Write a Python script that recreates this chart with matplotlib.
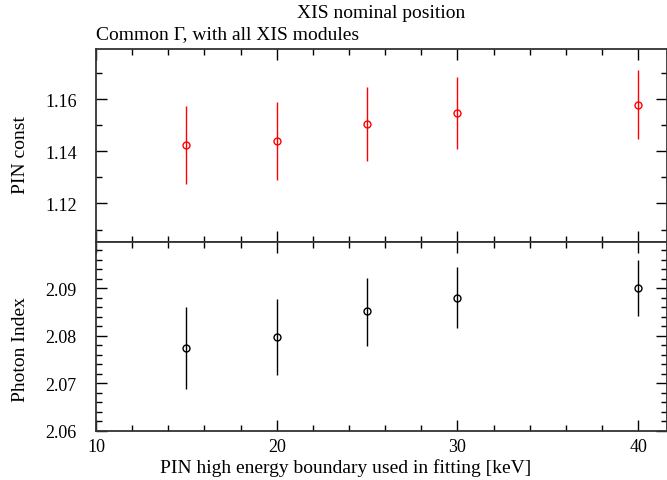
import matplotlib.pyplot as plt
from matplotlib.ticker import MultipleLocator

# PIN high energy boundary [keV]
energy = [15, 20, 25, 30, 40]

# PIN constant with asymmetric errors (upper, lower)
pin_const = [1.1423, 1.1439, 1.1504, 1.1548, 1.1579]
pin_hi = [1.1575, 1.1590, 1.1648, 1.1687, 1.1711]
pin_lo = [1.1275, 1.1292, 1.1363, 1.1410, 1.1447]

# photon index
gamma = [2.0774, 2.0798, 2.0851, 2.0880, 2.0901]
gamma_hi = [2.0860, 2.0878, 2.0921, 2.0945, 2.0960]
gamma_lo = [2.0688, 2.0718, 2.0779, 2.0815, 2.0842]

plt.rcParams['font.family'] = ['Liberation Serif', 'DejaVu Serif']
plt.rcParams['font.size'] = 13

fig = plt.figure(figsize=(6.67, 4.81), dpi=100)
ax1 = fig.add_axes([96 / 667, 1 - 242.5 / 481, 1 - 96 / 667, (242.5 - 49.5) / 481])
ax2 = fig.add_axes([96 / 667, 1 - 431.7 / 481, 1 - 96 / 667, (431.7 - 242.5) / 481], sharex=ax1)

err1 = [[c - l for c, l in zip(pin_const, pin_lo)], [h - c for c, h in zip(pin_const, pin_hi)]]
ax1.errorbar(energy, pin_const, yerr=err1, fmt='o', color='red', mfc='none',
             ms=5, mew=1, elinewidth=1, capsize=0)
err2 = [[c - l for c, l in zip(gamma, gamma_lo)], [h - c for c, h in zip(gamma, gamma_hi)]]
ax2.errorbar(energy, gamma, yerr=err2, fmt='o', color='black', mfc='none',
             ms=5, mew=1, elinewidth=1, capsize=0)

ax1.set_xlim(10, 41.6)
ax1.set_ylim(1.1054, 1.1795)
ax2.set_ylim(2.06, 2.0998)

ax1.yaxis.set_major_locator(MultipleLocator(0.02))
ax1.yaxis.set_minor_locator(MultipleLocator(0.01))
ax2.yaxis.set_major_locator(MultipleLocator(0.01))
ax2.yaxis.set_minor_locator(MultipleLocator(0.002))
ax2.xaxis.set_major_locator(MultipleLocator(10))
ax2.xaxis.set_minor_locator(MultipleLocator(2))
ax1.yaxis.set_major_formatter(plt.FormatStrFormatter('%.2f'))
ax2.yaxis.set_major_formatter(plt.FormatStrFormatter('%.2f'))

for ax in (ax1, ax2):
    ax.tick_params(which='both', direction='in', top=True, right=True, width=1)
    ax.tick_params(which='major', length=8)
    ax.tick_params(which='minor', length=4)
    ax.tick_params(axis='y', pad=14)
    ax.tick_params(axis='x', pad=5)
    for s in ax.spines.values():
        s.set_linewidth(1.3)
        s.set_color('#333333')
plt.setp(ax1.get_xticklabels(), visible=False)

ax1.set_ylabel('PIN const', fontsize=14, va='center')
ax1.yaxis.set_label_coords(-0.133, 0.453)
ax2.set_ylabel('Photon Index', fontsize=14, va='center')
ax2.yaxis.set_label_coords(-0.133, 0.432)
ax2.set_xlabel('PIN high energy boundary used in fitting [keV]', fontsize=14, va='center')
ax2.xaxis.set_label_coords(0.438, -(468 - 431.7) / 189.2)

fig.text(381 / 667, 1 - 14 / 481, 'XIS nominal position', ha='center', va='center', fontsize=14)
fig.text(96 / 667, 1 - 35 / 481, 'Common \u0393, with all XIS modules', ha='left', va='center', fontsize=14)

fig.savefig('out.png', dpi=100)
